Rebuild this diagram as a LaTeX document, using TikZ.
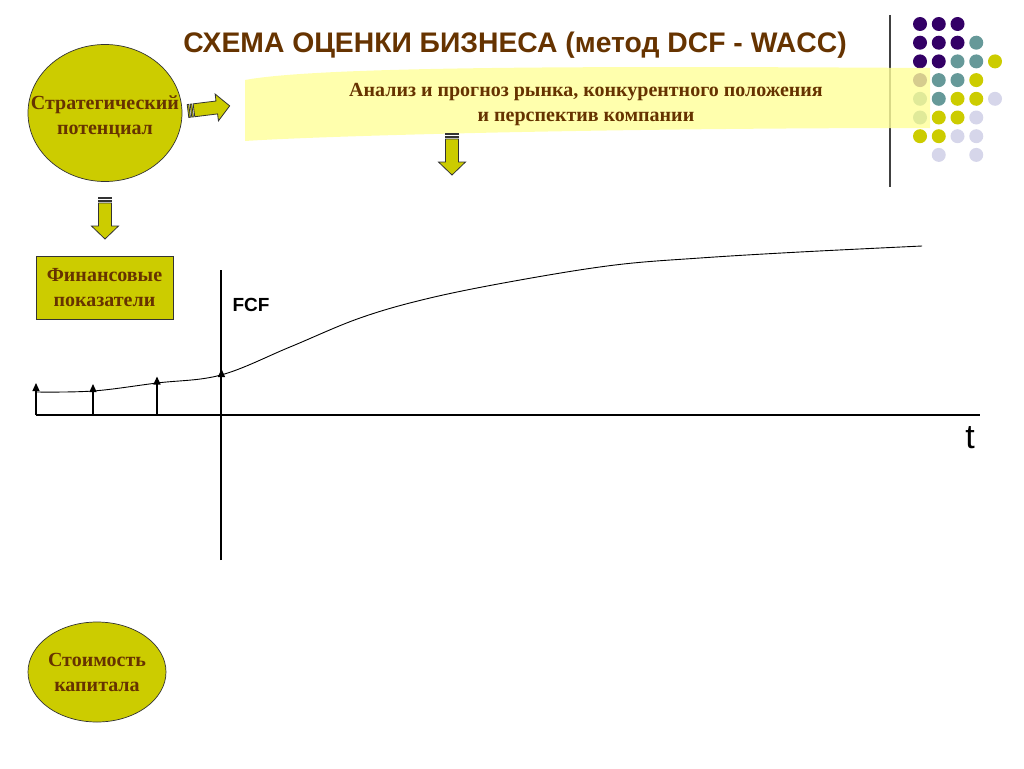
\documentclass[tikz,border=0pt]{standalone}
\usepackage{fontspec}
\setmainfont{Liberation Serif}
\setsansfont{Liberation Sans}
\usetikzlibrary{shapes.geometric,arrows.meta}

\definecolor{olivefill}{RGB}{204,204,0}
\definecolor{browntext}{RGB}{102,51,0}
\definecolor{bannerfill}{RGB}{255,255,153}
\definecolor{dotpurple}{RGB}{51,0,102}
\definecolor{dotteal}{RGB}{102,153,153}
\definecolor{dotyellow}{RGB}{204,204,0}
\definecolor{dotlilac}{RGB}{214,214,234}

\tikzset{
    boxtext/.style={font=\fontsize{20}{25}\selectfont\bfseries, text=browntext, align=center},
    ellbox/.style={ellipse, draw=black!80, fill=olivefill, line width=0.7pt, inner sep=0pt},
    rectbox/.style={rectangle, draw=black!80, fill=olivefill, line width=0.7pt, inner sep=0pt, boxtext},
    arrowbody/.style={fill=olivefill, draw=black!80, line width=0.8pt},
    bar/.style={line width=1.2pt, -{Triangle[length=8pt,width=7pt]}},
    pics/fatarrow/.style={code={
        \filldraw[arrowbody] (0,-6.5) rectangle (1.6,6.5);
        \filldraw[arrowbody] (3,-6.5) rectangle (4.6,6.5);
        \filldraw[arrowbody] (6,-6.5) -- (29,-6.5) -- (29,-13.5) -- (42,0)
            -- (29,13.5) -- (29,6.5) -- (6,6.5) -- cycle;
    }}
}

\begin{document}
\begin{tikzpicture}[x=1pt, y=-1pt]

    % Page size
    \def\pw{1024}
    \def\ph{768}
    \def\ax{221}
    \def\ay{415}
    \useasboundingbox (0,0) rectangle (\pw,\ph);

    % Title
    \node[font=\sffamily\bfseries\fontsize{28.3}{32}\selectfont, text=browntext] (title)
        at (515,45) {СХЕМА ОЦЕНКИ БИЗНЕСА (метод DCF - WACC)};

    % Corner decoration
    \draw[line width=1.3pt, black!75] (890,15) -- (890,187);
    \foreach \c/\r/\col in {1/1/dotpurple, 2/1/dotpurple, 3/1/dotpurple,
        1/2/dotpurple, 2/2/dotpurple, 3/2/dotpurple, 4/2/dotteal,
        1/3/dotpurple, 2/3/dotpurple, 3/3/dotteal, 4/3/dotteal, 5/3/dotyellow,
        1/4/dotpurple, 2/4/dotteal, 3/4/dotteal, 4/4/dotyellow,
        1/5/dotteal, 2/5/dotteal, 3/5/dotyellow, 4/5/dotyellow, 5/5/dotlilac,
        1/6/dotteal, 2/6/dotyellow, 3/6/dotyellow, 4/6/dotlilac,
        1/7/dotyellow, 2/7/dotyellow, 3/7/dotlilac, 4/7/dotlilac,
        2/8/dotlilac, 4/8/dotlilac}
        \fill[\col] ({901.25+18.75*\c},{5.3+18.7*\r}) circle (7);

    % Banner
    \fill[bannerfill, fill opacity=0.8] (245,80) .. controls (320,66) and (600,66) .. (930,68)
        -- (930,128) .. controls (600,128) and (320,136) .. (245,141) -- cycle;
    \node[boxtext] (market) at (586,105)
        {Анализ и прогноз рынка, конкурентного положения\\и перспектив компании};

    % Boxes
    \node[ellbox, minimum width=154pt, minimum height=137pt] (strat) at (105,113) {};
    \node[boxtext] (strattext) at ([yshift=-4pt]strat.center) {Стратегический\\потенциал};
    \node[rectbox, minimum width=137pt, minimum height=63pt] (fin) at (104.5,287.5)
        {Финансовые\\показатели};
    \node[ellbox, minimum width=138pt, minimum height=100pt] (cost) at (97,672) {};
    \node[boxtext] (costtext) at (cost.center) {Стоимость\\капитала};

    % Block arrows
    \pic[rotate=7] at (188,111) {fatarrow};
    \pic[rotate=-90] at (105,197) {fatarrow};
    \pic[rotate=-90] at (452,133) {fatarrow};

    % Axes
    \coordinate (xs) at (36,\ay);
    \coordinate (xe) at (980,\ay);
    \coordinate (ys) at (\ax,560);
    \coordinate (ye) at (\ax,270);
    \draw[line width=1.2pt] (xs) -- (xe);
    \draw[line width=1.2pt] (ys) -- (ye);
    \node[font=\sffamily\fontsize{34}{34}\selectfont] (tlab) at (970,438) {t};
    \node[font=\sffamily\bfseries\fontsize{19}{19}\selectfont, anchor=west] (fcf)
        at (229,305) {FCF};

    % FCF curve
    \draw[line width=0.9pt] plot[smooth, tension=0.6] coordinates {(36,392) (93,391)
        (157,383) (221,375) (290,347) (360,318) (430,298) (520,280) (615,265)
        (700,258) (800,252) (922,246)};

    % Cash flow bars
    \foreach \x/\y [count=\i] in {36/383, 93/384, 157/376.5, 221.5/369} {
        \coordinate (b\i) at (\x,\ay);
        \coordinate (t\i) at (\x,\y);
        \draw[bar] (b\i) -- (t\i);
    }

\end{tikzpicture}
\end{document}
